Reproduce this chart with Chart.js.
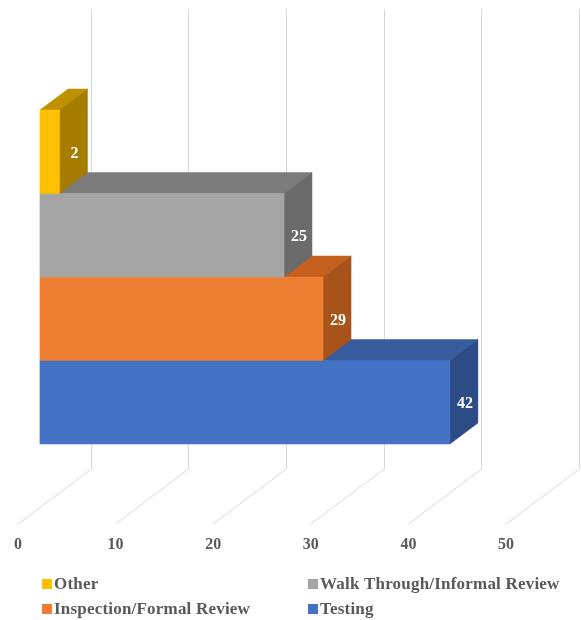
<!DOCTYPE html>
<html>
<head>
<meta charset="utf-8">
<script src="https://cdn.jsdelivr.net/npm/chart.js@4"></script>
<style>
	body { margin: 0; background: #fff; }
	#wrap { width: 581px; height: 620px; position: relative; }
</style>
</head>
<body>
<div id="wrap"><canvas id="myChart"></canvas></div>
<script>
const categories = ["Other", "Walk Through/Informal Review", "Inspection/Formal Review", "Testing"];
const counts = [2, 25, 29, 42];
const tickValues = [0, 10, 20, 30, 40, 50];

const frontColors = ["#FFC000", "#A5A5A5", "#ED7D31", "#4472C4"];
const topColors = ["#BF9000", "#7C7C7C", "#C45F1E", "#375C9E"];
const sideColors = ["#A67D00", "#6B6B6B", "#A8531A", "#2D4B85"];

const serif = '"Liberation Serif", "Times New Roman", serif';
const textGray = "#595959";

// bar depth and back wall / floor offsets (px)
const DX = 28, DY = 21;
const WALL_DX = 50.7;
const FLOOR_DX = -22;

const depth3d = {
	id: "depth3d",
	beforeDatasetsDraw(chart) {
		const ctx = chart.ctx;
		const xs = chart.scales.x;
		ctx.save();
		ctx.strokeStyle = "#D9D9D9";
		ctx.lineWidth = 1;
		tickValues.forEach((v) => {
			const px = xs.getPixelForValue(v);
			const bx = Math.round(px + WALL_DX) + 0.5;
			ctx.beginPath();
			ctx.moveTo(bx, 9);
			ctx.lineTo(bx, 469);
			ctx.lineTo(px + FLOOR_DX, 524);
			ctx.stroke();
		});
		// tick labels
		ctx.fillStyle = textGray;
		ctx.font = "bold 16px " + serif;
		ctx.textAlign = "center";
		ctx.textBaseline = "middle";
		tickValues.forEach((v) => {
			ctx.fillText(String(v), xs.getPixelForValue(v) + FLOOR_DX, 545);
		});
		ctx.restore();
	},
	afterDatasetsDraw(chart) {
		const ctx = chart.ctx;
		const meta = chart.getDatasetMeta(0);
		ctx.save();
		// draw from the bottom bar upwards so upper bars hide the faces behind them
		for (let i = meta.data.length - 1; i >= 0; i--) {
			const bar = meta.data[i];
			const { x, y, base, height } = bar.getProps(["x", "y", "base", "height"], true);
			const top = y - height / 2;
			const bottom = y + height / 2;

			ctx.fillStyle = topColors[i];
			ctx.strokeStyle = topColors[i];
			ctx.lineWidth = 0.5;
			ctx.beginPath();
			ctx.moveTo(base, top);
			ctx.lineTo(x, top);
			ctx.lineTo(x + DX, top - DY);
			ctx.lineTo(base + DX, top - DY);
			ctx.closePath();
			ctx.fill();
			ctx.stroke();

			ctx.fillStyle = sideColors[i];
			ctx.strokeStyle = sideColors[i];
			ctx.beginPath();
			ctx.moveTo(x, top);
			ctx.lineTo(x + DX, top - DY);
			ctx.lineTo(x + DX, bottom - DY);
			ctx.lineTo(x, bottom);
			ctx.closePath();
			ctx.fill();
			ctx.stroke();

			bar.draw(ctx);
		}
		// value labels on the side faces
		ctx.fillStyle = "#FFFFFF";
		ctx.font = "bold 16px " + serif;
		ctx.textAlign = "center";
		ctx.textBaseline = "middle";
		meta.data.forEach((bar, i) => {
			const { x, y } = bar.getProps(["x", "y"], true);
			ctx.fillText(String(counts[i]), x + DX / 2 + 1, y + 2);
		});
		ctx.restore();
	},
	afterDraw(chart) {
		const ctx = chart.ctx;
		const colX = [42, 308];
		const rowY = [584, 609];
		ctx.save();
		ctx.font = "bold 17px " + serif;
		ctx.letterSpacing = "0.2px";
		ctx.textBaseline = "middle";
		ctx.textAlign = "left";
		chart.data.labels.forEach((label, i) => {
			const cx = colX[i % 2];
			const cy = rowY[Math.floor(i / 2)];
			ctx.fillStyle = frontColors[i];
			ctx.fillRect(cx, cy - 5, 10, 10);
			ctx.fillStyle = textGray;
			ctx.fillText(label, cx + 12, cy + 1);
		});
		ctx.restore();
	},
};

const ctx = document.getElementById("myChart").getContext("2d");

const myChart = new Chart(ctx, {
	type: "bar",
	data: {
		labels: categories,
		datasets: [
			{
				label: "Count",
				data: counts,
				backgroundColor: frontColors,
				borderWidth: 0,
				barPercentage: 1,
				categoryPercentage: 1,
			},
		],
	},
	options: {
		indexAxis: "y",
		responsive: true,
		maintainAspectRatio: false,
		animation: false,
		layout: {
			padding: { left: 40, top: 110, right: 53, bottom: 176 },
		},
		scales: {
			x: { display: false, min: 0, max: 50 },
			y: { display: false },
		},
		plugins: {
			legend: { display: false },
			tooltip: { enabled: false },
		},
	},
	plugins: [depth3d],
});
</script>
</body>
</html>
